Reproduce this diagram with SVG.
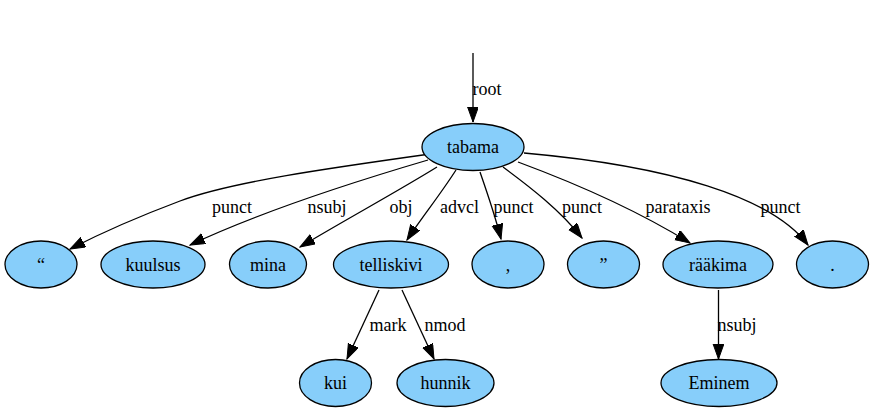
<svg xmlns="http://www.w3.org/2000/svg" width="875" height="413" viewBox="0 0 875 413" font-family="'Liberation Serif', 'DejaVu Serif', 'Noto Serif', serif">
  <style>
    .node ellipse { fill: #87cefa; stroke: #000; stroke-width: 1.3; }
    text { font-family: 'Liberation Serif', 'DejaVu Serif', 'Noto Serif', serif; font-size: 18px; fill: #000; }
    .node text { text-anchor: middle; }
    .edges path { fill: none; stroke: #000; stroke-width: 1.3; marker-end: url(#arrow); }
    .lbl { text-anchor: middle; }
  </style>
  <defs>
    <marker id="arrow" markerUnits="userSpaceOnUse" markerWidth="16" markerHeight="12" refX="15" refY="5.4" orient="auto">
      <path d="M0,0 L15,5.4 L0,10.8 z" fill="#000" stroke="#000" stroke-width="1"/>
    </marker>
  </defs>

  <rect width="875" height="413" fill="#fff"/>

  <g id="connectors" class="edges">
    <path d="M473,53 L473,122"/>
    <path d="M430,154 C330,168 230,182 180,201 C140,216 105,231 70,249"/>
    <path d="M428,160 C360,180 260,212 190,245"/>
    <path d="M437,167 C400,190 345,220 300,247"/>
    <path d="M456,170 C440,195 420,220 407,240"/>
    <path d="M480,172 C488,195 495,215 501,239"/>
    <path d="M503,167 C530,187 560,210 582,238"/>
    <path d="M518,162 C580,185 640,212 690,243"/>
    <path d="M524,153 C670,166 772,197 808,245"/>
    <path d="M379,290 L347,359"/>
    <path d="M402,290 L434,359"/>
    <path d="M718.5,290 L718.5,359"/>
    <text class="lbl" x="487" y="95">root</text>
    <text class="lbl" x="232" y="213">punct</text>
    <text class="lbl" x="327" y="213">nsubj</text>
    <text class="lbl" x="401" y="213">obj</text>
    <text class="lbl" x="459.5" y="213">advcl</text>
    <text class="lbl" x="513.5" y="213">punct</text>
    <text class="lbl" x="582" y="213">punct</text>
    <text class="lbl" x="678" y="213">parataxis</text>
    <text class="lbl" x="780.5" y="213">punct</text>
    <text class="lbl" x="388" y="331">mark</text>
    <text class="lbl" x="445" y="331">nmod</text>
    <text class="lbl" x="737" y="331">nsubj</text>
  </g>

  <g id="n-tabama" class="node">
    <ellipse cx="473" cy="147" rx="51" ry="23.5"/>
    <text x="473" y="153">tabama</text>
  </g>
  <g id="n-quote-open" class="node">
    <ellipse cx="41" cy="264.5" rx="36" ry="23.5"/>
    <text x="41" y="270.5">“</text>
  </g>
  <g id="n-kuulsus" class="node">
    <ellipse cx="153" cy="264.5" rx="52" ry="23.5"/>
    <text x="153" y="270.5">kuulsus</text>
  </g>
  <g id="n-mina" class="node">
    <ellipse cx="268" cy="264.5" rx="38.5" ry="23.5"/>
    <text x="268" y="270.5">mina</text>
  </g>
  <g id="n-telliskivi" class="node">
    <ellipse cx="391" cy="264.5" rx="57.5" ry="23.5"/>
    <text x="391" y="270.5">telliskivi</text>
  </g>
  <g id="n-comma" class="node">
    <ellipse cx="508" cy="264.5" rx="36" ry="23.5"/>
    <text x="508" y="270.5">,</text>
  </g>
  <g id="n-quote-close" class="node">
    <ellipse cx="603.5" cy="264.5" rx="36" ry="23.5"/>
    <text x="603.5" y="270.5">”</text>
  </g>
  <g id="n-raakima" class="node">
    <ellipse cx="718" cy="264.5" rx="55" ry="23.5"/>
    <text x="718" y="270.5">rääkima</text>
  </g>
  <g id="n-period" class="node">
    <ellipse cx="832.5" cy="264.5" rx="36" ry="23.5"/>
    <text x="832.5" y="270.5">.</text>
  </g>
  <g id="n-kui" class="node">
    <ellipse cx="335.5" cy="383" rx="36" ry="23.5"/>
    <text x="335.5" y="389">kui</text>
  </g>
  <g id="n-hunnik" class="node">
    <ellipse cx="445.5" cy="383" rx="48.5" ry="23.5"/>
    <text x="445.5" y="389">hunnik</text>
  </g>
  <g id="n-eminem" class="node">
    <ellipse cx="719" cy="383" rx="58" ry="23.5"/>
    <text x="719" y="389">Eminem</text>
  </g>
</svg>
